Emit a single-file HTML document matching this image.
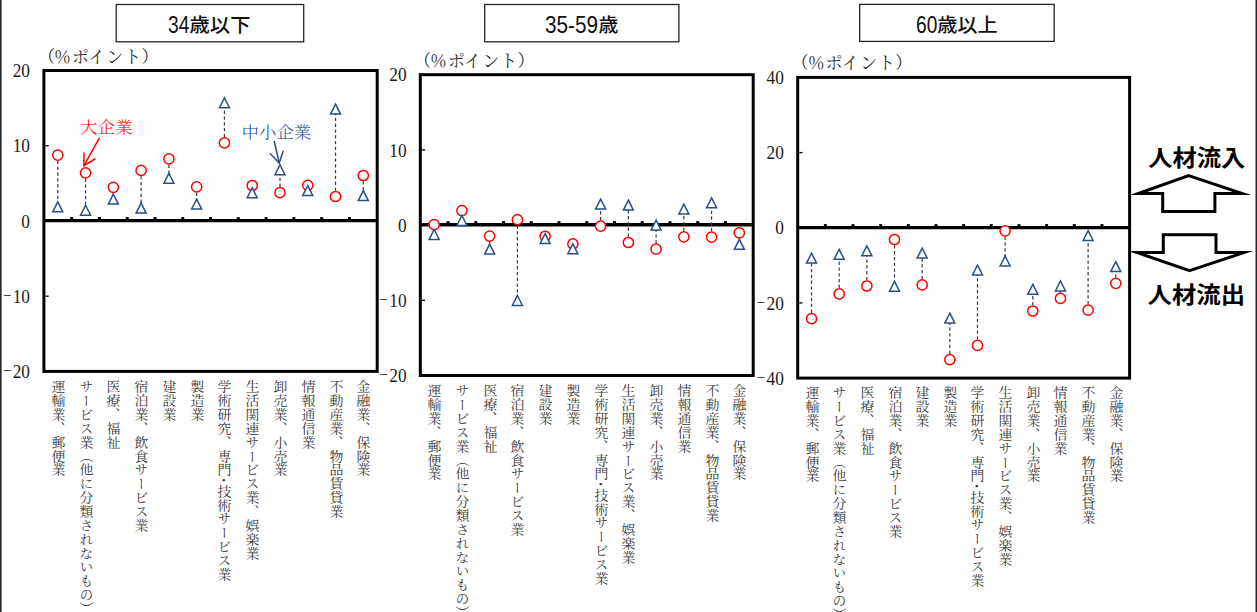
<!DOCTYPE html>
<html lang="ja"><head><meta charset="utf-8"><title>人材流入・流出</title>
<style>
*{margin:0;padding:0;box-sizing:border-box}
html,body{width:1257px;height:612px;overflow:hidden;background:#fff}
body{position:relative;font-family:"Liberation Serif","Noto Serif CJK SC",serif;color:#3a3a3a}
svg{position:absolute;left:0;top:0}
.yl{position:absolute;width:60px;text-align:right;font-size:17.3px;line-height:22px;color:#1a1a1a;font-family:"Liberation Serif",serif;white-space:nowrap;transform:scale(1,1.05);transform-origin:100% 50%}
.mn{font-size:15px;position:relative;top:-1.6px;margin-right:1.3px}
text.unit{font-size:17px;fill:#2b2b2b;font-weight:400;font-family:"Liberation Serif","Noto Serif CJK SC",serif}
text.tdig{font-size:23.4px;fill:#111;font-family:"Liberation Sans",sans-serif}
text.tkj{font-size:19.5px;fill:#111;font-weight:500;font-family:"Noto Sans CJK JP",sans-serif}
text.ann{font-size:16px;font-weight:300;font-family:"Liberation Serif","Noto Serif CJK SC",serif}
.title{position:absolute;text-align:center;font-family:"Liberation Sans","Noto Sans CJK JP",sans-serif;font-size:20px;font-weight:700;color:#111;white-space:nowrap}
.cat{position:absolute;writing-mode:vertical-rl;width:20px;font-size:12.9px;letter-spacing:0.95px;line-height:20px;transform:scaleX(1.08);white-space:nowrap;color:#3a3a3a;font-weight:400;font-family:"Noto Serif CJK SC",serif}
.ann{position:absolute;font-size:17px;line-height:22px;white-space:nowrap;font-family:"Noto Serif CJK SC",serif}
text.big{font-size:22.2px;font-weight:700;fill:#000;font-family:"Noto Sans CJK JP",sans-serif}
</style></head>
<body>
<svg width="1257" height="612" viewBox="0 0 1257 612">
<rect x="116.2" y="4.5" width="187.5" height="37.3" fill="#fff" stroke="#262626" stroke-width="1.3"/>
<rect x="43.9" y="70.5" width="333.3" height="300.9" fill="#fff" stroke="#000" stroke-width="3"/>
<line x1="45.4" y1="145.72" x2="48.7" y2="145.72" stroke="#000" stroke-width="1.3"/>
<line x1="45.4" y1="296.17" x2="48.7" y2="296.17" stroke="#000" stroke-width="1.3"/>
<line x1="43.9" y1="220.7" x2="377.2" y2="220.7" stroke="#000" stroke-width="3.3"/>
<rect x="70.17" y="217.1" width="3" height="3" fill="#000"/>
<rect x="97.95" y="217.1" width="3" height="3" fill="#000"/>
<rect x="125.72" y="217.1" width="3" height="3" fill="#000"/>
<rect x="153.5" y="217.1" width="3" height="3" fill="#000"/>
<rect x="181.28" y="217.1" width="3" height="3" fill="#000"/>
<rect x="209.05" y="217.1" width="3" height="3" fill="#000"/>
<rect x="236.83" y="217.1" width="3" height="3" fill="#000"/>
<rect x="264.6" y="217.1" width="3" height="3" fill="#000"/>
<rect x="292.38" y="217.1" width="3" height="3" fill="#000"/>
<rect x="320.15" y="217.1" width="3" height="3" fill="#000"/>
<rect x="347.93" y="217.1" width="3" height="3" fill="#000"/>
<line x1="57.79" y1="155.1" x2="57.79" y2="206.65" stroke="#3a3a3a" stroke-width="1.2" stroke-dasharray="3.3 2.5"/>
<line x1="85.56" y1="172.8" x2="85.56" y2="209.95" stroke="#3a3a3a" stroke-width="1.2" stroke-dasharray="3.3 2.5"/>
<line x1="113.34" y1="187.3" x2="113.34" y2="198.9" stroke="#3a3a3a" stroke-width="1.2" stroke-dasharray="3.3 2.5"/>
<line x1="141.11" y1="170.4" x2="141.11" y2="207.9" stroke="#3a3a3a" stroke-width="1.2" stroke-dasharray="3.3 2.5"/>
<line x1="168.89" y1="158.9" x2="168.89" y2="178.05" stroke="#3a3a3a" stroke-width="1.2" stroke-dasharray="3.3 2.5"/>
<line x1="196.66" y1="186.9" x2="196.66" y2="203.75" stroke="#3a3a3a" stroke-width="1.2" stroke-dasharray="3.3 2.5"/>
<line x1="224.44" y1="142.9" x2="224.44" y2="102.5" stroke="#3a3a3a" stroke-width="1.2" stroke-dasharray="3.3 2.5"/>
<line x1="252.21" y1="185.5" x2="252.21" y2="192.5" stroke="#3a3a3a" stroke-width="1.2" stroke-dasharray="3.3 2.5"/>
<line x1="279.99" y1="192.7" x2="279.99" y2="169.45" stroke="#3a3a3a" stroke-width="1.2" stroke-dasharray="3.3 2.5"/>
<line x1="307.76" y1="185.3" x2="307.76" y2="190.4" stroke="#3a3a3a" stroke-width="1.2" stroke-dasharray="3.3 2.5"/>
<line x1="335.54" y1="196.5" x2="335.54" y2="108.9" stroke="#3a3a3a" stroke-width="1.2" stroke-dasharray="3.3 2.5"/>
<line x1="363.31" y1="175.5" x2="363.31" y2="195.35" stroke="#3a3a3a" stroke-width="1.2" stroke-dasharray="3.3 2.5"/>
<circle cx="57.79" cy="155.1" r="5.1" fill="#fff" stroke="#ff0000" stroke-width="1.5"/>
<circle cx="85.56" cy="172.8" r="5.1" fill="#fff" stroke="#ff0000" stroke-width="1.5"/>
<circle cx="113.34" cy="187.3" r="5.1" fill="#fff" stroke="#ff0000" stroke-width="1.5"/>
<circle cx="141.11" cy="170.4" r="5.1" fill="#fff" stroke="#ff0000" stroke-width="1.5"/>
<circle cx="168.89" cy="158.9" r="5.1" fill="#fff" stroke="#ff0000" stroke-width="1.5"/>
<circle cx="196.66" cy="186.9" r="5.1" fill="#fff" stroke="#ff0000" stroke-width="1.5"/>
<circle cx="224.44" cy="142.9" r="5.1" fill="#fff" stroke="#ff0000" stroke-width="1.5"/>
<circle cx="252.21" cy="185.5" r="5.1" fill="#fff" stroke="#ff0000" stroke-width="1.5"/>
<circle cx="279.99" cy="192.7" r="5.1" fill="#fff" stroke="#ff0000" stroke-width="1.5"/>
<circle cx="307.76" cy="185.3" r="5.1" fill="#fff" stroke="#ff0000" stroke-width="1.5"/>
<circle cx="335.54" cy="196.5" r="5.1" fill="#fff" stroke="#ff0000" stroke-width="1.5"/>
<circle cx="363.31" cy="175.5" r="5.1" fill="#fff" stroke="#ff0000" stroke-width="1.5"/>
<path d="M0,-4.7L5,5.2L-5,5.2Z" transform="translate(57.79,206.65)" fill="#fff" stroke="#264f8c" stroke-width="1.5"/>
<path d="M0,-4.7L5,5.2L-5,5.2Z" transform="translate(85.56,209.95)" fill="#fff" stroke="#264f8c" stroke-width="1.5"/>
<path d="M0,-4.7L5,5.2L-5,5.2Z" transform="translate(113.34,198.9)" fill="#fff" stroke="#264f8c" stroke-width="1.5"/>
<path d="M0,-4.7L5,5.2L-5,5.2Z" transform="translate(141.11,207.9)" fill="#fff" stroke="#264f8c" stroke-width="1.5"/>
<path d="M0,-4.7L5,5.2L-5,5.2Z" transform="translate(168.89,178.05)" fill="#fff" stroke="#264f8c" stroke-width="1.5"/>
<path d="M0,-4.7L5,5.2L-5,5.2Z" transform="translate(196.66,203.75)" fill="#fff" stroke="#264f8c" stroke-width="1.5"/>
<path d="M0,-4.7L5,5.2L-5,5.2Z" transform="translate(224.44,102.5)" fill="#fff" stroke="#264f8c" stroke-width="1.5"/>
<path d="M0,-4.7L5,5.2L-5,5.2Z" transform="translate(252.21,192.5)" fill="#fff" stroke="#264f8c" stroke-width="1.5"/>
<path d="M0,-4.7L5,5.2L-5,5.2Z" transform="translate(279.99,169.45)" fill="#fff" stroke="#264f8c" stroke-width="1.5"/>
<path d="M0,-4.7L5,5.2L-5,5.2Z" transform="translate(307.76,190.4)" fill="#fff" stroke="#264f8c" stroke-width="1.5"/>
<path d="M0,-4.7L5,5.2L-5,5.2Z" transform="translate(335.54,108.9)" fill="#fff" stroke="#264f8c" stroke-width="1.5"/>
<path d="M0,-4.7L5,5.2L-5,5.2Z" transform="translate(363.31,195.35)" fill="#fff" stroke="#264f8c" stroke-width="1.5"/>
<text x="37.9 54.1 71.9 88 106.6 124.2 141.6" y="62.8" class="unit">（％ポイント）</text>
<text x="168" y="32.5" class="tdig" textLength="21.3" lengthAdjust="spacingAndGlyphs">34</text>
<text x="189.5" y="31.6" class="tkj" textLength="61" lengthAdjust="spacingAndGlyphs">歳以下</text>
<rect x="484.7" y="4.5" width="194.2" height="37.3" fill="#fff" stroke="#262626" stroke-width="1.3"/>
<rect x="420.3" y="74.7" width="332.9" height="300.8" fill="#fff" stroke="#000" stroke-width="3"/>
<line x1="421.8" y1="149.9" x2="425.1" y2="149.9" stroke="#000" stroke-width="1.3"/>
<line x1="421.8" y1="300.3" x2="425.1" y2="300.3" stroke="#000" stroke-width="1.3"/>
<line x1="420.3" y1="224.75" x2="753.2" y2="224.75" stroke="#000" stroke-width="3.3"/>
<rect x="446.54" y="221.15" width="3" height="3" fill="#000"/>
<rect x="474.28" y="221.15" width="3" height="3" fill="#000"/>
<rect x="502.03" y="221.15" width="3" height="3" fill="#000"/>
<rect x="529.77" y="221.15" width="3" height="3" fill="#000"/>
<rect x="557.51" y="221.15" width="3" height="3" fill="#000"/>
<rect x="585.25" y="221.15" width="3" height="3" fill="#000"/>
<rect x="612.99" y="221.15" width="3" height="3" fill="#000"/>
<rect x="640.73" y="221.15" width="3" height="3" fill="#000"/>
<rect x="668.48" y="221.15" width="3" height="3" fill="#000"/>
<rect x="696.22" y="221.15" width="3" height="3" fill="#000"/>
<rect x="723.96" y="221.15" width="3" height="3" fill="#000"/>
<line x1="434.17" y1="224.6" x2="434.17" y2="234.2" stroke="#3a3a3a" stroke-width="1.2" stroke-dasharray="3.3 2.5"/>
<line x1="461.91" y1="210.55" x2="461.91" y2="220.2" stroke="#3a3a3a" stroke-width="1.2" stroke-dasharray="3.3 2.5"/>
<line x1="489.65" y1="236.05" x2="489.65" y2="248.9" stroke="#3a3a3a" stroke-width="1.2" stroke-dasharray="3.3 2.5"/>
<line x1="517.4" y1="219.7" x2="517.4" y2="300.2" stroke="#3a3a3a" stroke-width="1.2" stroke-dasharray="3.3 2.5"/>
<line x1="545.14" y1="236.25" x2="545.14" y2="238.4" stroke="#3a3a3a" stroke-width="1.2" stroke-dasharray="3.3 2.5"/>
<line x1="572.88" y1="243.96" x2="572.88" y2="248.5" stroke="#3a3a3a" stroke-width="1.2" stroke-dasharray="3.3 2.5"/>
<line x1="600.62" y1="226.2" x2="600.62" y2="203.8" stroke="#3a3a3a" stroke-width="1.2" stroke-dasharray="3.3 2.5"/>
<line x1="628.36" y1="242.5" x2="628.36" y2="204.9" stroke="#3a3a3a" stroke-width="1.2" stroke-dasharray="3.3 2.5"/>
<line x1="656.1" y1="249.2" x2="656.1" y2="224.9" stroke="#3a3a3a" stroke-width="1.2" stroke-dasharray="3.3 2.5"/>
<line x1="683.85" y1="236.8" x2="683.85" y2="208.8" stroke="#3a3a3a" stroke-width="1.2" stroke-dasharray="3.3 2.5"/>
<line x1="711.59" y1="237.2" x2="711.59" y2="202.5" stroke="#3a3a3a" stroke-width="1.2" stroke-dasharray="3.3 2.5"/>
<line x1="739.33" y1="232.9" x2="739.33" y2="244.1" stroke="#3a3a3a" stroke-width="1.2" stroke-dasharray="3.3 2.5"/>
<circle cx="434.17" cy="224.6" r="5.1" fill="#fff" stroke="#ff0000" stroke-width="1.5"/>
<circle cx="461.91" cy="210.55" r="5.1" fill="#fff" stroke="#ff0000" stroke-width="1.5"/>
<circle cx="489.65" cy="236.05" r="5.1" fill="#fff" stroke="#ff0000" stroke-width="1.5"/>
<circle cx="517.4" cy="219.7" r="5.1" fill="#fff" stroke="#ff0000" stroke-width="1.5"/>
<circle cx="545.14" cy="236.25" r="5.1" fill="#fff" stroke="#ff0000" stroke-width="1.5"/>
<circle cx="572.88" cy="243.96" r="5.1" fill="#fff" stroke="#ff0000" stroke-width="1.5"/>
<circle cx="600.62" cy="226.2" r="5.1" fill="#fff" stroke="#ff0000" stroke-width="1.5"/>
<circle cx="628.36" cy="242.5" r="5.1" fill="#fff" stroke="#ff0000" stroke-width="1.5"/>
<circle cx="656.1" cy="249.2" r="5.1" fill="#fff" stroke="#ff0000" stroke-width="1.5"/>
<circle cx="683.85" cy="236.8" r="5.1" fill="#fff" stroke="#ff0000" stroke-width="1.5"/>
<circle cx="711.59" cy="237.2" r="5.1" fill="#fff" stroke="#ff0000" stroke-width="1.5"/>
<circle cx="739.33" cy="232.9" r="5.1" fill="#fff" stroke="#ff0000" stroke-width="1.5"/>
<path d="M0,-4.7L5,5.2L-5,5.2Z" transform="translate(434.17,234.2)" fill="#fff" stroke="#264f8c" stroke-width="1.5"/>
<path d="M0,-4.7L5,5.2L-5,5.2Z" transform="translate(461.91,220.2)" fill="#fff" stroke="#264f8c" stroke-width="1.5"/>
<path d="M0,-4.7L5,5.2L-5,5.2Z" transform="translate(489.65,248.9)" fill="#fff" stroke="#264f8c" stroke-width="1.5"/>
<path d="M0,-4.7L5,5.2L-5,5.2Z" transform="translate(517.4,300.2)" fill="#fff" stroke="#264f8c" stroke-width="1.5"/>
<path d="M0,-4.7L5,5.2L-5,5.2Z" transform="translate(545.14,238.4)" fill="#fff" stroke="#264f8c" stroke-width="1.5"/>
<path d="M0,-4.7L5,5.2L-5,5.2Z" transform="translate(572.88,248.5)" fill="#fff" stroke="#264f8c" stroke-width="1.5"/>
<path d="M0,-4.7L5,5.2L-5,5.2Z" transform="translate(600.62,203.8)" fill="#fff" stroke="#264f8c" stroke-width="1.5"/>
<path d="M0,-4.7L5,5.2L-5,5.2Z" transform="translate(628.36,204.9)" fill="#fff" stroke="#264f8c" stroke-width="1.5"/>
<path d="M0,-4.7L5,5.2L-5,5.2Z" transform="translate(656.1,224.9)" fill="#fff" stroke="#264f8c" stroke-width="1.5"/>
<path d="M0,-4.7L5,5.2L-5,5.2Z" transform="translate(683.85,208.8)" fill="#fff" stroke="#264f8c" stroke-width="1.5"/>
<path d="M0,-4.7L5,5.2L-5,5.2Z" transform="translate(711.59,202.5)" fill="#fff" stroke="#264f8c" stroke-width="1.5"/>
<path d="M0,-4.7L5,5.2L-5,5.2Z" transform="translate(739.33,244.1)" fill="#fff" stroke="#264f8c" stroke-width="1.5"/>
<text x="413.9 430.1 447.9 464 482.6 500.2 517.6" y="66.6" class="unit">（％ポイント）</text>
<text x="545" y="32.5" class="tdig" textLength="53" lengthAdjust="spacingAndGlyphs">35-59</text>
<text x="598.5" y="31.6" class="tkj" textLength="19.8" lengthAdjust="spacingAndGlyphs">歳</text>
<rect x="859.7" y="4.4" width="194.5" height="37" fill="#fff" stroke="#262626" stroke-width="1.3"/>
<rect x="797.7" y="77.4" width="331.9" height="300.7" fill="#fff" stroke="#000" stroke-width="3"/>
<line x1="799.2" y1="152.58" x2="802.5" y2="152.58" stroke="#000" stroke-width="1.3"/>
<line x1="799.2" y1="302.93" x2="802.5" y2="302.93" stroke="#000" stroke-width="1.3"/>
<line x1="797.7" y1="227.7" x2="1129.6" y2="227.7" stroke="#000" stroke-width="3.3"/>
<rect x="823.86" y="224.1" width="3" height="3" fill="#000"/>
<rect x="851.52" y="224.1" width="3" height="3" fill="#000"/>
<rect x="879.17" y="224.1" width="3" height="3" fill="#000"/>
<rect x="906.83" y="224.1" width="3" height="3" fill="#000"/>
<rect x="934.49" y="224.1" width="3" height="3" fill="#000"/>
<rect x="962.15" y="224.1" width="3" height="3" fill="#000"/>
<rect x="989.81" y="224.1" width="3" height="3" fill="#000"/>
<rect x="1017.47" y="224.1" width="3" height="3" fill="#000"/>
<rect x="1045.12" y="224.1" width="3" height="3" fill="#000"/>
<rect x="1072.78" y="224.1" width="3" height="3" fill="#000"/>
<rect x="1100.44" y="224.1" width="3" height="3" fill="#000"/>
<line x1="811.53" y1="318.7" x2="811.53" y2="257.9" stroke="#3a3a3a" stroke-width="1.2" stroke-dasharray="3.3 2.5"/>
<line x1="839.19" y1="293.9" x2="839.19" y2="254" stroke="#3a3a3a" stroke-width="1.2" stroke-dasharray="3.3 2.5"/>
<line x1="866.85" y1="286" x2="866.85" y2="250.5" stroke="#3a3a3a" stroke-width="1.2" stroke-dasharray="3.3 2.5"/>
<line x1="894.5" y1="239.5" x2="894.5" y2="286" stroke="#3a3a3a" stroke-width="1.2" stroke-dasharray="3.3 2.5"/>
<line x1="922.16" y1="284.9" x2="922.16" y2="252.9" stroke="#3a3a3a" stroke-width="1.2" stroke-dasharray="3.3 2.5"/>
<line x1="949.82" y1="359.7" x2="949.82" y2="317.9" stroke="#3a3a3a" stroke-width="1.2" stroke-dasharray="3.3 2.5"/>
<line x1="977.48" y1="345.4" x2="977.48" y2="269.8" stroke="#3a3a3a" stroke-width="1.2" stroke-dasharray="3.3 2.5"/>
<line x1="1005.14" y1="230.8" x2="1005.14" y2="260.8" stroke="#3a3a3a" stroke-width="1.2" stroke-dasharray="3.3 2.5"/>
<line x1="1032.8" y1="311" x2="1032.8" y2="289" stroke="#3a3a3a" stroke-width="1.2" stroke-dasharray="3.3 2.5"/>
<line x1="1060.45" y1="298.4" x2="1060.45" y2="285.7" stroke="#3a3a3a" stroke-width="1.2" stroke-dasharray="3.3 2.5"/>
<line x1="1088.11" y1="310.2" x2="1088.11" y2="235.3" stroke="#3a3a3a" stroke-width="1.2" stroke-dasharray="3.3 2.5"/>
<line x1="1115.77" y1="283.3" x2="1115.77" y2="266.4" stroke="#3a3a3a" stroke-width="1.2" stroke-dasharray="3.3 2.5"/>
<circle cx="811.53" cy="318.7" r="5.1" fill="#fff" stroke="#ff0000" stroke-width="1.5"/>
<circle cx="839.19" cy="293.9" r="5.1" fill="#fff" stroke="#ff0000" stroke-width="1.5"/>
<circle cx="866.85" cy="286" r="5.1" fill="#fff" stroke="#ff0000" stroke-width="1.5"/>
<circle cx="894.5" cy="239.5" r="5.1" fill="#fff" stroke="#ff0000" stroke-width="1.5"/>
<circle cx="922.16" cy="284.9" r="5.1" fill="#fff" stroke="#ff0000" stroke-width="1.5"/>
<circle cx="949.82" cy="359.7" r="5.1" fill="#fff" stroke="#ff0000" stroke-width="1.5"/>
<circle cx="977.48" cy="345.4" r="5.1" fill="#fff" stroke="#ff0000" stroke-width="1.5"/>
<circle cx="1005.14" cy="230.8" r="5.1" fill="#fff" stroke="#ff0000" stroke-width="1.5"/>
<circle cx="1032.8" cy="311" r="5.1" fill="#fff" stroke="#ff0000" stroke-width="1.5"/>
<circle cx="1060.45" cy="298.4" r="5.1" fill="#fff" stroke="#ff0000" stroke-width="1.5"/>
<circle cx="1088.11" cy="310.2" r="5.1" fill="#fff" stroke="#ff0000" stroke-width="1.5"/>
<circle cx="1115.77" cy="283.3" r="5.1" fill="#fff" stroke="#ff0000" stroke-width="1.5"/>
<path d="M0,-4.7L5,5.2L-5,5.2Z" transform="translate(811.53,257.9)" fill="#fff" stroke="#264f8c" stroke-width="1.5"/>
<path d="M0,-4.7L5,5.2L-5,5.2Z" transform="translate(839.19,254)" fill="#fff" stroke="#264f8c" stroke-width="1.5"/>
<path d="M0,-4.7L5,5.2L-5,5.2Z" transform="translate(866.85,250.5)" fill="#fff" stroke="#264f8c" stroke-width="1.5"/>
<path d="M0,-4.7L5,5.2L-5,5.2Z" transform="translate(894.5,286)" fill="#fff" stroke="#264f8c" stroke-width="1.5"/>
<path d="M0,-4.7L5,5.2L-5,5.2Z" transform="translate(922.16,252.9)" fill="#fff" stroke="#264f8c" stroke-width="1.5"/>
<path d="M0,-4.7L5,5.2L-5,5.2Z" transform="translate(949.82,317.9)" fill="#fff" stroke="#264f8c" stroke-width="1.5"/>
<path d="M0,-4.7L5,5.2L-5,5.2Z" transform="translate(977.48,269.8)" fill="#fff" stroke="#264f8c" stroke-width="1.5"/>
<path d="M0,-4.7L5,5.2L-5,5.2Z" transform="translate(1005.14,260.8)" fill="#fff" stroke="#264f8c" stroke-width="1.5"/>
<path d="M0,-4.7L5,5.2L-5,5.2Z" transform="translate(1032.8,289)" fill="#fff" stroke="#264f8c" stroke-width="1.5"/>
<path d="M0,-4.7L5,5.2L-5,5.2Z" transform="translate(1060.45,285.7)" fill="#fff" stroke="#264f8c" stroke-width="1.5"/>
<path d="M0,-4.7L5,5.2L-5,5.2Z" transform="translate(1088.11,235.3)" fill="#fff" stroke="#264f8c" stroke-width="1.5"/>
<path d="M0,-4.7L5,5.2L-5,5.2Z" transform="translate(1115.77,266.4)" fill="#fff" stroke="#264f8c" stroke-width="1.5"/>
<text x="791.6 807.8 825.6 841.7 860.3 877.9 895.3" y="69" class="unit">（％ポイント）</text>
<text x="916" y="32.5" class="tdig" textLength="21.3" lengthAdjust="spacingAndGlyphs">60</text>
<text x="937.2" y="31.6" class="tkj" textLength="60.5" lengthAdjust="spacingAndGlyphs">歳以上</text>
<g fill="none" stroke="#ff0000" stroke-width="1.5" stroke-linecap="round"><line x1="99.2" y1="138.4" x2="83.9" y2="165.7"/><polyline points="84,153.1 83.9,165.7 95,159"/></g>
<g fill="none" stroke="#264f8c" stroke-width="1.5" stroke-linecap="round"><line x1="274.3" y1="141.5" x2="279.2" y2="163"/><polyline points="270.4,153.7 279.2,163 283.1,151.3"/></g>
<text x="80.0" y="132.6" class="ann" fill="#ff0000" textLength="52.8" lengthAdjust="spacingAndGlyphs">大企業</text>
<text x="241.5" y="138.2" class="ann" fill="#264f8c" textLength="69.8" lengthAdjust="spacingAndGlyphs">中小企業</text>
<polygon points="1188.7,175.7 1242.2,193.6 1214.9,193.6 1214.9,211.5 1162.7,211.5 1162.7,193.6 1138.2,193.6" fill="#fff" stroke="#000" stroke-width="3" stroke-miterlimit="10"/>
<polygon points="1189.6,270.6 1243.8,252.6 1216,252.6 1216,234.7 1163.3,234.7 1163.3,252.6 1137.2,252.6" fill="#fff" stroke="#000" stroke-width="3" stroke-miterlimit="10"/>
<text x="1148.2" y="166.3" class="big" textLength="97" lengthAdjust="spacingAndGlyphs">人材流入</text>
<text x="1147.6" y="303.0" class="big" textLength="97.4" lengthAdjust="spacingAndGlyphs">人材流出</text>
<rect x="0" y="0" width="1.6" height="612" fill="#22272b"/>
<rect x="1255.5" y="0" width="1.5" height="612" fill="#22272b"/>
</svg>
<div class="yl" style="left:-30px;top:61.2px">20</div>
<div class="yl" style="left:-30px;top:136.42px">10</div>
<div class="yl" style="left:-30px;top:211.65px">0</div>
<div class="yl" style="left:-30px;top:286.87px"><span class="mn">−</span>10</div>
<div class="yl" style="left:-30px;top:362.1px"><span class="mn">−</span>20</div>
<div class="cat" style="left:47.79px;top:379.8px">運輸業、郵便業</div>
<div class="cat" style="left:75.56px;top:379.8px">サービス業（他に分類されないもの）</div>
<div class="cat" style="left:103.34px;top:379.8px">医療、福祉</div>
<div class="cat" style="left:131.11px;top:379.8px">宿泊業、飲食サービス業</div>
<div class="cat" style="left:158.89px;top:379.8px">建設業</div>
<div class="cat" style="left:186.66px;top:379.8px">製造業</div>
<div class="cat" style="left:214.44px;top:379.8px">学術研究、専門･技術サービス業</div>
<div class="cat" style="left:242.21px;top:379.8px">生活関連サービス業、娯楽業</div>
<div class="cat" style="left:269.99px;top:379.8px">卸売業、小売業</div>
<div class="cat" style="left:297.76px;top:379.8px">情報通信業</div>
<div class="cat" style="left:325.54px;top:379.8px">不動産業、物品賃貸業</div>
<div class="cat" style="left:353.31px;top:379.8px">金融業、保険業</div>
<div class="yl" style="left:346.6px;top:65.4px">20</div>
<div class="yl" style="left:346.6px;top:140.6px">10</div>
<div class="yl" style="left:346.6px;top:215.8px">0</div>
<div class="yl" style="left:346.6px;top:291px"><span class="mn">−</span>10</div>
<div class="yl" style="left:346.6px;top:366.2px"><span class="mn">−</span>20</div>
<div class="cat" style="left:424.17px;top:384.1px">運輸業、郵便業</div>
<div class="cat" style="left:451.91px;top:384.1px">サービス業（他に分類されないもの）</div>
<div class="cat" style="left:479.65px;top:384.1px">医療、福祉</div>
<div class="cat" style="left:507.4px;top:384.1px">宿泊業、飲食サービス業</div>
<div class="cat" style="left:535.14px;top:384.1px">建設業</div>
<div class="cat" style="left:562.88px;top:384.1px">製造業</div>
<div class="cat" style="left:590.62px;top:384.1px">学術研究、専門･技術サービス業</div>
<div class="cat" style="left:618.36px;top:384.1px">生活関連サービス業、娯楽業</div>
<div class="cat" style="left:646.1px;top:384.1px">卸売業、小売業</div>
<div class="cat" style="left:673.85px;top:384.1px">情報通信業</div>
<div class="cat" style="left:701.59px;top:384.1px">不動産業、物品賃貸業</div>
<div class="cat" style="left:729.33px;top:384.1px">金融業、保険業</div>
<div class="yl" style="left:723.8px;top:68.1px">40</div>
<div class="yl" style="left:723.8px;top:143.28px">20</div>
<div class="yl" style="left:723.8px;top:218.45px">0</div>
<div class="yl" style="left:723.8px;top:293.63px"><span class="mn">−</span>20</div>
<div class="yl" style="left:723.8px;top:368.8px"><span class="mn">−</span>40</div>
<div class="cat" style="left:801.53px;top:386.2px">運輸業、郵便業</div>
<div class="cat" style="left:829.19px;top:386.2px">サービス業（他に分類されないもの）</div>
<div class="cat" style="left:856.85px;top:386.2px">医療、福祉</div>
<div class="cat" style="left:884.5px;top:386.2px">宿泊業、飲食サービス業</div>
<div class="cat" style="left:912.16px;top:386.2px">建設業</div>
<div class="cat" style="left:939.82px;top:386.2px">製造業</div>
<div class="cat" style="left:967.48px;top:386.2px">学術研究、専門･技術サービス業</div>
<div class="cat" style="left:995.14px;top:386.2px">生活関連サービス業、娯楽業</div>
<div class="cat" style="left:1022.8px;top:386.2px">卸売業、小売業</div>
<div class="cat" style="left:1050.45px;top:386.2px">情報通信業</div>
<div class="cat" style="left:1078.11px;top:386.2px">不動産業、物品賃貸業</div>
<div class="cat" style="left:1105.77px;top:386.2px">金融業、保険業</div>
</body></html>
